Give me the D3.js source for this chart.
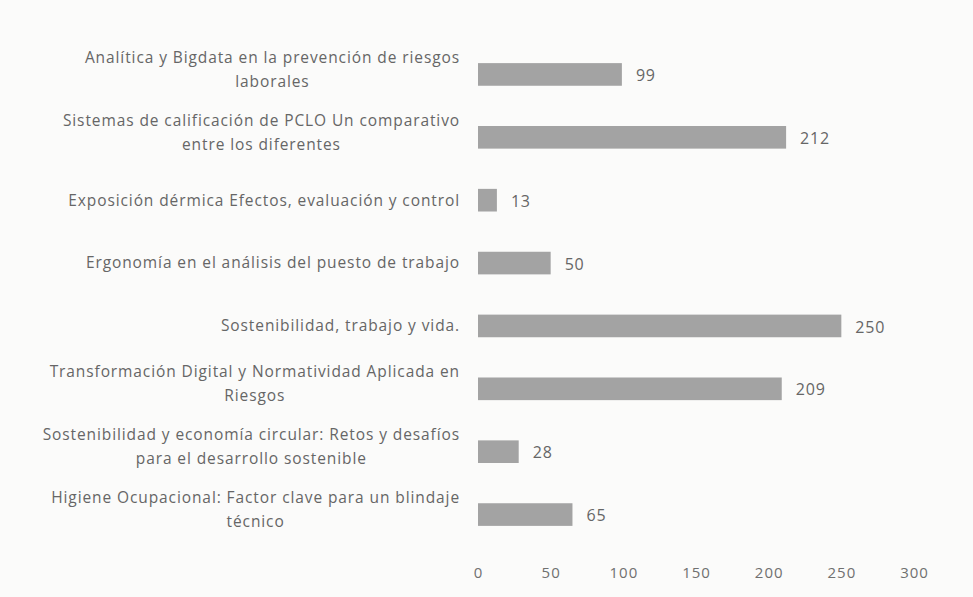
<!DOCTYPE html>
<html lang="es">
<head>
    <meta charset="UTF-8">
    <title>Asistentes por tema</title>
    <script src="https://d3js.org/d3.v7.min.js"></script>
    <style>
        body { margin: 0; background: #fbfbfa; }
        .cat-label { font-family: "Open Sans", sans-serif; font-size: 15.5px; letter-spacing: 0.9px; fill: #666; }
        .value-label { font-family: "Open Sans", sans-serif; font-size: 16px; letter-spacing: 0.8px; fill: #666; }
        .x-axis text { font-family: "Open Sans", sans-serif; font-size: 15px; letter-spacing: 1px; fill: #707070; }
    </style>
</head>
<body>
<div id="chart"></div>
<script>
    // Data
    const categories = [
        ["Analítica y Bigdata en la prevención de riesgos", "laborales"],
        ["Sistemas de calificación de PCLO Un comparativo", "entre los diferentes"],
        ["Exposición dérmica Efectos, evaluación y control"],
        ["Ergonomía en el análisis del puesto de trabajo"],
        ["Sostenibilidad, trabajo y vida."],
        ["Transformación Digital y Normatividad Aplicada en", "Riesgos"],
        ["Sostenibilidad y economía circular: Retos y desafíos", "para el desarrollo sostenible"],
        ["Higiene Ocupacional:  Factor clave para un blindaje", "técnico"]
    ];
    const values = [99, 212, 13, 50, 250, 209, 28, 65];
    const xTicks = [0, 50, 100, 150, 200, 250, 300];

    const width = 973;
    const height = 597;

    const svg = d3.select("#chart")
        .append("svg")
        .attr("width", width)
        .attr("height", height);

    const x = d3.scaleLinear()
        .domain([0, 300])
        .range([478, 914]);

    const y = d3.scaleBand()
        .domain(d3.range(categories.length))
        .range([43, 546])
        .paddingInner(0.64)
        .paddingOuter(0.32);

    // Bars
    svg.selectAll(".bar")
        .data(values)
        .enter()
        .append("rect")
        .attr("class", "bar")
        .attr("x", x(0))
        .attr("y", (d, i) => y(i))
        .attr("width", d => x(d) - x(0))
        .attr("height", y.bandwidth())
        .attr("fill", "#a3a3a3");

    // Value labels
    svg.selectAll(".value-label")
        .data(values)
        .enter()
        .append("text")
        .attr("class", "value-label")
        .attr("x", d => x(d) + 14)
        .attr("y", (d, i) => y(i) + y.bandwidth() / 2 + 1)
        .attr("dy", "0.35em")
        .text(d => d);

    // Category labels (right aligned, wrapped)
    const lineH = 24;
    svg.selectAll(".cat-label")
        .data(categories)
        .enter()
        .append("text")
        .attr("class", "cat-label")
        .attr("text-anchor", "middle")
        .each(function(lines, i) {
            const cy = y(i) + y.bandwidth() / 2 - (lines.length > 1 ? 5 : 0);
            const top = cy - (lines.length - 1) * lineH / 2;
            d3.select(this).selectAll("tspan")
                .data(lines)
                .enter()
                .append("tspan")
                .attr("y", (d, j) => top + j * lineH)
                .attr("dy", "0.35em")
                .text(d => d);
        });

    // widest line ends at the right edge, the others are centered under it
    svg.selectAll(".cat-label").each(function() {
        const spans = d3.select(this).selectAll("tspan").nodes();
        const w = d3.max(spans, s => s.getComputedTextLength());
        spans.forEach(s => d3.select(s).attr("x", 460 - w / 2));
    });

    // X axis
    const xAxis = d3.axisBottom(x)
        .tickValues(xTicks)
        .tickSize(0)
        .tickPadding(0);

    svg.append("g")
        .attr("class", "x-axis")
        .attr("transform", `translate(0,${567})`)
        .call(xAxis)
        .call(g => g.select(".domain").remove());
</script>
</body>
</html>
